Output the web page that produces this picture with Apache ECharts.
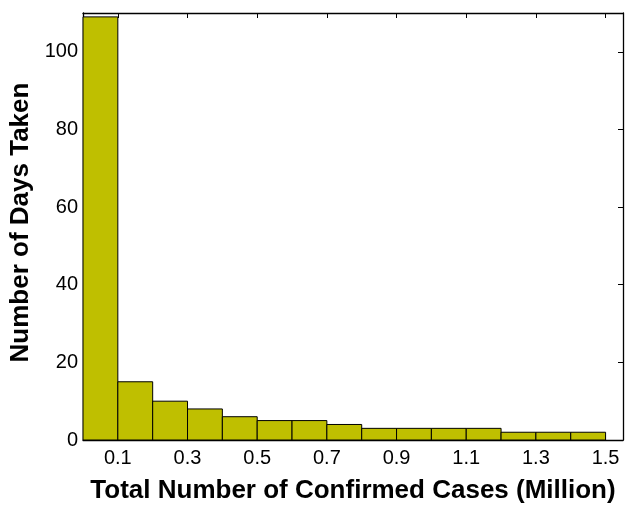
<!DOCTYPE html>
<html><head><meta charset="utf-8">
<script src="https://cdn.jsdelivr.net/npm/echarts@6/dist/echarts.min.js"></script>
<style>html,body{margin:0;padding:0;background:#fff}#c{width:627px;height:514px}</style>
</head><body><div id="c"></div>
<script>
const binStarts = [0.0,0.1,0.2,0.3,0.4,0.5,0.6,0.7,0.8,0.9,1.0,1.1,1.2,1.3,1.4];
const binWidth = 0.1;
const counts = [109,15,10,8,6,5,5,4,3,3,3,3,2,2,2];
const xTicks = [0.1,0.3,0.5,0.7,0.9,1.1,1.3,1.5];
const yTicks = [0,20,40,60,80,100];

const data = binStarts.map((s,i)=>[s, s+binWidth, counts[i]]);
const chart = echarts.init(document.getElementById('c'));
const font = 'Liberation Sans, Arial, sans-serif';
const baseX = {
  type:'value', min:0, max:1.55,
  axisLine:{show:true,onZero:false,lineStyle:{color:'#000',width:1.3}},
  splitLine:{show:false}
};
const baseY = {
  type:'value', min:0, max:110,
  axisLine:{show:true,onZero:false,lineStyle:{color:'#000',width:1.3}},
  splitLine:{show:false}
};
chart.setOption({
  animation:false,
  grid:{left:83,right:4,top:13,bottom:74,containLabel:false,outerBoundsMode:'none'},
  xAxis:[
    Object.assign({}, baseX, {position:'bottom',
      name:'Total Number of Confirmed Cases (Million)', nameLocation:'middle', nameGap:38,
      nameTextStyle:{fontFamily:font,fontWeight:'bold',fontSize:26,color:'#000'},
      axisTick:{show:true,inside:true,length:5,customValues:xTicks,lineStyle:{color:'#000'}},
      axisLabel:{show:true,customValues:xTicks,fontFamily:font,fontSize:20,color:'#000',margin:8,
        formatter:v=>v.toFixed(1)}}),
    Object.assign({}, baseX, {position:'top',
      axisTick:{show:true,inside:true,length:5,customValues:xTicks,lineStyle:{color:'#000'}},
      axisLabel:{show:false}})
  ],
  yAxis:[
    Object.assign({}, baseY, {position:'left',
      name:'Number of Days Taken', nameLocation:'middle', nameGap:48,
      nameTextStyle:{fontFamily:font,fontWeight:'bold',fontSize:26,color:'#000',padding:[0,0,0,8]},
      axisTick:{show:true,inside:true,length:5,customValues:yTicks,lineStyle:{color:'#000'}},
      axisLabel:{show:true,customValues:yTicks,fontFamily:font,fontSize:20,color:'#000',margin:5}}),
    Object.assign({}, baseY, {position:'right',
      axisTick:{show:true,inside:true,length:5,customValues:yTicks,lineStyle:{color:'#000'}},
      axisLabel:{show:false}})
  ],
  series:[{
    type:'custom',
    xAxisIndex:0, yAxisIndex:0,
    data:data,
    encode:{x:[0,1],y:2},
    renderItem:function(params, api){
      const p0 = api.coord([api.value(0), api.value(2)]);
      const p1 = api.coord([api.value(1), 0]);
      return {type:'rect', shape:{x:p0[0], y:p0[1], width:p1[0]-p0[0], height:p1[1]-p0[1]},
        style:{fill:'#BFBF00', stroke:'#000', lineWidth:1}};
    }
  }]
});
</script></body></html>
